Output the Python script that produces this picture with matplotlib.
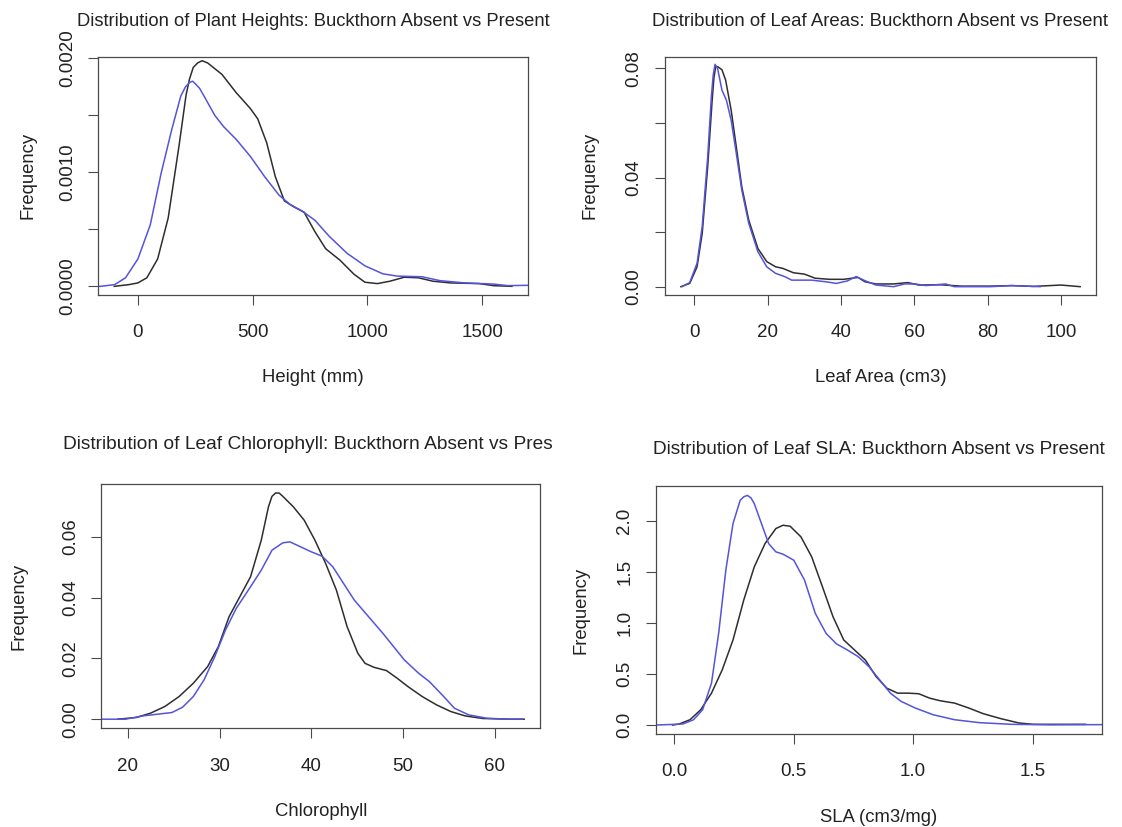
import matplotlib
matplotlib.use("Agg")
import matplotlib.pyplot as plt
from matplotlib.transforms import Bbox, TransformedBbox

plt.rcParams['font.family'] = ['Liberation Sans', 'DejaVu Sans']

# density curves read per panel: (x, y) pairs, absent = black, present = blue
height_absent_x = [-103, -39, 0, 39, 86, 132, 179, 210, 225, 241, 260, 280, 304, 366, 428, 490,
                   522, 561, 599, 638, 677, 724, 771, 818, 880, 942, 989, 1043, 1098, 1160, 1222,
                   1285, 1362, 1487, 1549, 1629]
height_absent_y = [0, 0.000015, 0.00003, 0.000075, 0.00024, 0.0006, 0.00123, 0.00168, 0.00182,
                   0.00192, 0.00196, 0.00198, 0.00196, 0.00186, 0.0017, 0.00156, 0.00147, 0.00126,
                   0.00096, 0.00075, 0.0007, 0.00065, 0.00048, 0.00033, 0.00023, 0.000105,
                   0.000036, 0.000024, 0.000045, 0.00008, 0.000075, 0.000045, 0.00003, 0.000024,
                   0.000006, 0]
height_present_x = [-172, -163, -101, -54, 0, 54, 101, 148, 187, 207, 226, 238, 249, 268, 288, 335,
                    374, 428, 490, 553, 615, 662, 716, 771, 833, 911, 989, 1067, 1129, 1238, 1316,
                    1424, 1549, 1612, 1698]
height_present_y = [0, 0, 0.000015, 0.000075, 0.00024, 0.00054, 0.00099, 0.00138, 0.00167, 0.00175,
                    0.00179, 0.0018, 0.00178, 0.00174, 0.00167, 0.0015, 0.0014, 0.00129, 0.00114,
                    0.00096, 0.0008, 0.00072, 0.00066, 0.00058, 0.00044, 0.00029, 0.00018,
                    0.00011, 0.00009, 0.000084, 0.00005, 0.00003, 0.00002, 0.000006, 0.000009]

area_absent_x = [-3.7, -1.3, 0.7, 2.1, 3.6, 4.8, 5.3, 5.8, 6.5, 7.5, 8.5, 10, 11.4, 12.9, 14.8,
                 17.3, 19.7, 22.1, 24.1, 27, 30, 32.9, 36.8, 40.7, 44.6, 46.5, 49.5, 54.3, 58.2,
                 61.2, 67, 72.9, 80.7, 86.5, 92.4, 100, 105.2]
area_absent_y = [0, 0.0012, 0.0073, 0.0195, 0.044, 0.068, 0.0765, 0.0808, 0.0805, 0.0795, 0.0757,
                 0.0647, 0.0513, 0.0366, 0.0244, 0.014, 0.0092, 0.0073, 0.0067, 0.0051, 0.0046,
                 0.0031, 0.0027, 0.0027, 0.0034, 0.0018, 0.001, 0.001, 0.0015, 0.0006, 0.0007,
                 0.0002, 0.0002, 0.0004, 0.0001, 0.0006, 0]
area_present_x = [-3.4, -1.3, 0.7, 2.1, 3.6, 4.6, 5.1, 5.6, 6.3, 7.5, 8.7, 10, 11.4, 12.9, 14.8,
                  17.3, 19.7, 22.1, 24.6, 26.5, 31.9, 35.8, 38.7, 41.7, 44.1, 46.5, 49.5, 54.3,
                  57.3, 60.2, 63.1, 68.5, 70.9, 80.7, 86.5, 90.4, 94.3]
area_present_y = [0, 0.0015, 0.0086, 0.022, 0.0476, 0.0696, 0.0775, 0.0815, 0.0800, 0.072, 0.0684,
                  0.061, 0.0489, 0.0354, 0.0232, 0.0128, 0.0073, 0.0049, 0.0037, 0.0024, 0.0024,
                  0.0018, 0.0012, 0.0021, 0.0037, 0.0022, 0.0006, 0, 0.001, 0.001, 0.0004, 0.001,
                  0, 0, 0.0004, 0.0002, 0]

chl_absent_x = [18.9, 20.9, 22.46, 24.02, 25.58, 27.13, 28.69, 29.86, 31.03, 32.2, 33.37, 34.54,
                35.32, 35.7, 36.1, 36.5, 36.88, 38.05, 39.22, 40.39, 41.56, 42.73, 43.9, 45.07,
                45.85, 46.82, 48.19, 49.36, 50.53, 52.09, 53.65, 55.2, 56.76, 58.71, 61.83, 63.2]
chl_absent_y = [0, 0.00055, 0.00197, 0.00416, 0.00745, 0.01182, 0.0173, 0.02387, 0.03372, 0.0403,
                0.04686, 0.0589, 0.06985, 0.0733, 0.07445, 0.0744, 0.07336, 0.06985, 0.06548,
                0.0589, 0.05124, 0.04248, 0.03044, 0.02168, 0.01839, 0.01708, 0.01599, 0.01347,
                0.01073, 0.00745, 0.00471, 0.00252, 0.00109, 0.00022, 0, 0]
chl_present_x = [17.1, 19.73, 21.68, 23.24, 24.8, 25.96, 27.13, 28.3, 29.47, 30.64, 31.81, 33.37,
                 34.54, 35.71, 36.88, 37.66, 38.83, 40, 41.17, 42.34, 43.51, 44.68, 46.24, 47.8,
                 48.97, 50.14, 51.7, 52.87, 54.43, 55.6, 57.15, 59.1, 61.44, 63]
chl_present_y = [0, 0, 0.0011, 0.00164, 0.00219, 0.00394, 0.00745, 0.01292, 0.02058, 0.02934,
                 0.03646, 0.04358, 0.04905, 0.05562, 0.05803, 0.05836, 0.05672, 0.05507, 0.05365,
                 0.05015, 0.04467, 0.0392, 0.03372, 0.02825, 0.02387, 0.01949, 0.01511, 0.01237,
                 0.00745, 0.00361, 0.00142, 0.00033, 0, 0]

sla_absent_x = [-0.006, 0.022, 0.067, 0.112, 0.157, 0.202, 0.247, 0.292, 0.336, 0.381, 0.426, 0.456,
                0.486, 0.531, 0.576, 0.621, 0.665, 0.71, 0.755, 0.8, 0.845, 0.89, 0.935, 0.98,
                1.024, 1.069, 1.114, 1.174, 1.234, 1.294, 1.368, 1.443, 1.503, 1.623, 1.721]
sla_absent_y = [0, 0.01, 0.052, 0.15, 0.313, 0.542, 0.835, 1.227, 1.553, 1.781, 1.928, 1.961, 1.951,
                1.847, 1.651, 1.357, 1.064, 0.835, 0.737, 0.639, 0.476, 0.362, 0.313, 0.313, 0.307,
                0.264, 0.238, 0.215, 0.166, 0.111, 0.062, 0.02, 0.007, 0.007, 0.007]
sla_present_x = [-0.075, 0.037, 0.082, 0.12, 0.157, 0.187, 0.217, 0.247, 0.277, 0.292, 0.307, 0.322,
                 0.336, 0.366, 0.396, 0.426, 0.456, 0.501, 0.546, 0.591, 0.636, 0.68, 0.725, 0.77,
                 0.815, 0.86, 0.905, 0.95, 1.01, 1.084, 1.174, 1.279, 1.413, 1.578, 1.79]
sla_present_y = [0, 0.01, 0.052, 0.15, 0.411, 0.9, 1.52, 1.977, 2.206, 2.24, 2.254, 2.23, 2.173,
                 1.977, 1.781, 1.7, 1.677, 1.618, 1.423, 1.096, 0.9, 0.796, 0.737, 0.672, 0.574,
                 0.444, 0.313, 0.232, 0.166, 0.101, 0.052, 0.023, 0.007, 0.002, 0.004]

titles = ["Distribution of Plant Heights: Buckthorn Absent vs Present",
          "Distribution of Leaf Areas: Buckthorn Absent vs Present",
          "Distribution of Leaf Chlorophyll: Buckthorn Absent vs Present",
          "Distribution of Leaf SLA: Buckthorn Absent vs Present"]
xlabels = ["Height (mm)", "Leaf Area (cm3)", "Chlorophyll", "SLA (cm3/mg)"]

W, H = 1122, 827
INK = '#222222'
BOX = '#4a4a4a'
BLACK = '#2e2e2e'
BLUE = '#5454dc'

fig = plt.figure(figsize=(W / 100, H / 100), dpi=100)


def panel(box, xlim, ylim, xticks, xtlabels, yticks, ytlabels, title, title_y, title_size,
          xlabel, ylab_off, xa, ya, xb, yb, clip_right=None):
    left, right, top, bottom = box
    ax = fig.add_axes([left / W, 1 - bottom / H, (right - left) / W, (bottom - top) / H])
    ax.plot(xa, ya, color=BLACK, lw=1.1, solid_joinstyle='round')
    ax.plot(xb, yb, color=BLUE, lw=1.1, solid_joinstyle='round')
    ax.set_xlim(*xlim)
    ax.set_ylim(*ylim)
    ax.set_xticks(xticks)
    ax.set_xticklabels(xtlabels)
    ax.set_yticks(yticks)
    ax.set_yticklabels(ytlabels, rotation=90, va='center')
    ax.tick_params(direction='out', length=7.2, width=0.8, color=BOX, labelcolor=INK,
                   labelsize=13.5)
    ax.tick_params(axis='x', pad=14)
    ax.tick_params(axis='y', pad=9)
    for s in ax.spines.values():
        s.set_color(BOX)
        s.set_linewidth(0.9)
    ax.set_xlabel(xlabel, fontsize=13.3, color=INK, va='center')
    ax.xaxis.set_label_coords(0.5, -83 / (bottom - top))
    ax.set_ylabel("Frequency", fontsize=13.3, color=INK, va='center')
    ax.yaxis.set_label_coords(-ylab_off / (right - left), 0.5)
    t = fig.text((left + right) / 2 / W, 1 - title_y / H, title, ha='center', va='center',
                 fontsize=title_size, color=INK)
    if clip_right is not None:
        t.set_clip_box(TransformedBbox(Bbox([[0, 0], [clip_right / W, 1]]), fig.transFigure))
        t.set_clip_on(True)
    return ax


panel((98.4, 527.7, 56.7, 295), (-172, 1698), (-0.000076, 0.002015),
      [0, 500, 1000, 1500], ["0", "500", "1000", "1500"],
      [0, 0.0005, 0.001, 0.0015, 0.002], ["0.0000", "", "0.0010", "", "0.0020"],
      titles[0], 21.7, 13.2, xlabels[0], 70,
      height_absent_x, height_absent_y, height_present_x, height_present_y)

panel((664.8, 1095.9, 56.7, 295), (-8.1, 109.5), (-0.00305, 0.0843),
      [0, 20, 40, 60, 80, 100], ["0", "20", "40", "60", "80", "100"],
      [0, 0.02, 0.04, 0.06, 0.08], ["0.00", "", "0.04", "", "0.08"],
      titles[1], 21.7, 13.4, xlabels[1], 75,
      area_absent_x, area_absent_y, area_present_x, area_present_y)

panel((101.3, 540.2, 484, 728.3), (17.1, 64.95), (-0.003, 0.0774),
      [20, 30, 40, 50, 60], ["20", "30", "40", "50", "60"],
      [0, 0.02, 0.04, 0.06], ["0.00", "0.02", "0.04", "0.06"],
      titles[2], 445, 13.8, xlabels[2], 82,
      chl_absent_x, chl_absent_y, chl_present_x, chl_present_y, clip_right=553)

panel((656, 1102, 486, 734), (-0.075, 1.79), (-0.088, 2.346),
      [0, 0.5, 1.0, 1.5], ["0.0", "0.5", "1.0", "1.5"],
      [0, 0.5, 1.0, 1.5, 2.0], ["0.0", "0.5", "1.0", "1.5", "2.0"],
      titles[3], 450, 13.7, xlabels[3], 75,
      sla_absent_x, sla_absent_y, sla_present_x, sla_present_y)

fig.savefig("out.png", dpi=100)
